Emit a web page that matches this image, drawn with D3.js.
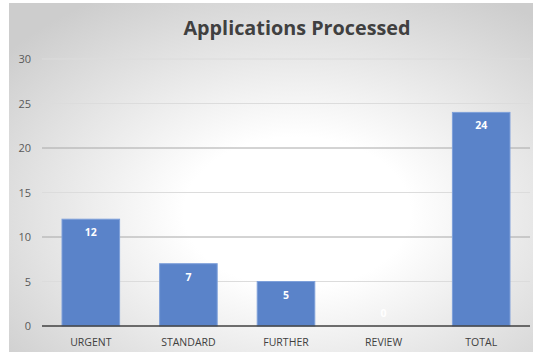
<!DOCTYPE html>
<html>
<head>
<meta charset="utf-8">
<script src="https://cdn.jsdelivr.net/npm/d3@7"></script>
<style>
  body { margin: 0; background: #fff; }
  svg { display: block; font-family: 'Open Sans', 'Liberation Sans', sans-serif; }
</style>
</head>
<body>
<svg id="chart" width="533" height="358"></svg>
<script>
'use strict';

var categories = ['URGENT', 'STANDARD', 'FURTHER', 'REVIEW', 'TOTAL'];
var values = [12, 7, 5, 0, 24];
var yTicks = [0, 5, 10, 15, 20, 25, 30];
var chartTitle = 'Applications Processed';

var svg = d3.select('#chart');

// background panel with soft radial gradient
var defs = svg.append('defs');
var grad = defs.append('radialGradient').attr('id', 'bg-grad')
  .attr('cx', '55%').attr('cy', '60%').attr('r', '72%');
grad.append('stop').attr('offset', '0%').attr('stop-color', '#ffffff');
grad.append('stop').attr('offset', '30%').attr('stop-color', '#ffffff');
grad.append('stop').attr('offset', '100%').attr('stop-color', '#cdcdcd');

svg.append('rect').attr('x', 9).attr('y', 3).attr('width', 524).attr('height', 349)
  .attr('fill', 'url(#bg-grad)');

var x = d3.scaleBand().domain(categories).range([42, 530]).paddingInner(0.41).paddingOuter(0.205);
var y = d3.scaleLinear().domain([0, 30]).range([326, 59]);

// gridlines
svg.append('g').selectAll('line').data(yTicks.filter(function(d) { return d > 0; }))
  .enter().append('line')
  .attr('x1', 42).attr('x2', 530)
  .attr('y1', function(d) { return y(d); }).attr('y2', function(d) { return y(d); })
  .attr('stroke', function(d) { return d % 10 === 0 && d < 30 ? '#a8a8a8' : '#dcdcdc'; })
  .attr('stroke-width', 1);

// y tick labels
svg.append('g').selectAll('text').data(yTicks).enter().append('text')
  .attr('x', 31).attr('y', function(d) { return y(d) + 4; })
  .attr('text-anchor', 'end')
  .attr('font-size', 11).attr('fill', '#595959')
  .text(function(d) { return d; });

// bars
var data = categories.map(function(c, i) { return {cat: c, val: values[i]}; });
svg.append('g').selectAll('rect').data(data).enter().append('rect')
  .attr('x', function(d) { return x(d.cat); })
  .attr('width', x.bandwidth())
  .attr('y', function(d) { return y(d.val); })
  .attr('height', function(d) { return y(0) - y(d.val); })
  .attr('fill', '#5a83c9')
  .attr('stroke', '#7ea0da').attr('stroke-width', 1);

// value labels
svg.append('g').selectAll('text').data(data).enter().append('text')
  .attr('x', function(d) { return x(d.cat) + x.bandwidth() / 2; })
  .attr('y', function(d) { return Math.min(y(d.val) + 17, y(0) - 9); })
  .attr('text-anchor', 'middle')
  .attr('font-size', 10.5).attr('font-weight', 'bold').attr('fill', '#ffffff')
  .text(function(d) { return d.val; });

// axis line
svg.append('line').attr('x1', 42).attr('x2', 530).attr('y1', y(0)).attr('y2', y(0))
  .attr('stroke', '#404040').attr('stroke-width', 1.5);

// category labels
svg.append('g').selectAll('text').data(categories).enter().append('text')
  .attr('x', function(d) { return x(d) + x.bandwidth() / 2; })
  .attr('y', 346)
  .attr('text-anchor', 'middle')
  .attr('font-size', 10.5).attr('fill', '#404040')
  .text(function(d) { return d; });

// title
svg.append('text').attr('x', 297).attr('y', 35)
  .attr('text-anchor', 'middle')
  .attr('font-size', 19.8).attr('font-weight', 'bold').attr('fill', '#404040')
  .text(chartTitle);
</script>
</body>
</html>
